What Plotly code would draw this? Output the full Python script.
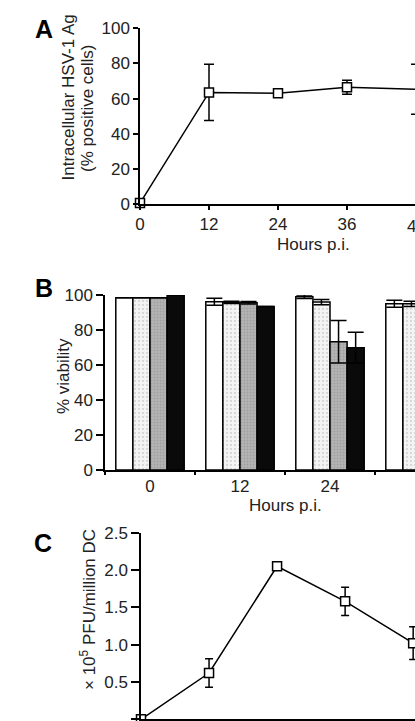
import plotly.graph_objects as go

W, H = 415, 721
FONT = "Liberation Sans, Arial, sans-serif"
TXT = "#222222"

# ---------------- data ----------------
hours = [0, 12, 24, 36, 48]

# Panel A: intracellular HSV-1 Ag (% positive cells)
ag_pct = [0.5, 63.5, 63.0, 66.4, 65.3]
ag_err = [0, 16, 1.5, 4, 14.2]

# Panel B: % viability, 4 conditions per time point
b_times = ["0", "12", "24", "36"]
via_white = [98.5, 96.2, 99.0, 95.0]
via_white_err = [0, 2.0, 1.0, 2.0]
via_dotted = [98.5, 95.8, 96.0, 95.0]
via_dotted_err = [0, 0.7, 1.5, 1.5]
via_grey = [98.5, 95.6, 73.3, None]
via_grey_err = [0, 0.7, 12.2, 0]
via_black = [100.0, 93.5, 69.9, None]
via_black_err = [0, 0, 8.8, 0]

# Panel C: x 10^5 PFU / million DC
pfu = [0.0, 0.62, 2.05, 1.58, 1.02]
pfu_err = [0, 0.19, 0.03, 0.19, 0.22]


def px(x):
    return x / W


def py(y):
    return 1 - y / H


# axis geometry (in screen pixels)
A_X0, A_PPH = 140, 5.75
A_TOP, A_BOT = 28.3, 204
B_X0, B_CAT = 105, 90
B_TOP, B_BOT = 295, 470
C_X0, C_PPH = 141, 5.67
C_TOP, C_BOT = 532.7, 719.3

a_range = [0, (W - A_X0) / A_PPH]
b_range = [-0.5, -0.5 + (W - B_X0) / B_CAT]
c_range = [0, (W - C_X0) / C_PPH]

fig = go.Figure()

line_style = dict(color="black", width=1.5)
marker_style = dict(symbol="square", size=9, color="white",
                    line=dict(color="black", width=1.5))

fig.add_trace(go.Scatter(
    x=hours, y=ag_pct, mode="lines+markers", line=line_style, marker=marker_style,
    error_y=dict(type="data", array=ag_err, color="black", thickness=1.5, width=5),
    cliponaxis=False, xaxis="x", yaxis="y", showlegend=False))

bar_specs = [
    (via_white, via_white_err, dict(color="white")),
    (via_dotted, via_dotted_err, dict(color="#f2f2f2",
                                      pattern=dict(shape=".", fgcolor="#b8b8b8", bgcolor="#f4f4f4",
                                                   size=4, solidity=0.25))),
    (via_grey, via_grey_err, dict(color="#a8a8a8",
                                  pattern=dict(shape=".", fgcolor="#8a8a8a", bgcolor="#b4b4b4",
                                               size=3, solidity=0.3))),
    (via_black, via_black_err, dict(color="#0a0a0a")),
]
for vals, errs, mk in bar_specs:
    mk = dict(mk)
    mk["line"] = dict(color="black", width=1.5)
    fig.add_trace(go.Bar(
        x=b_times, y=vals, marker=mk,
        error_y=dict(type="data", array=errs, color="black", thickness=1.5, width=8),
        xaxis="x2", yaxis="y2", showlegend=False))

fig.add_trace(go.Scatter(
    x=hours, y=pfu, mode="lines+markers", line=line_style, marker=marker_style,
    error_y=dict(type="data", array=pfu_err, color="black", thickness=1.5, width=4),
    cliponaxis=False, xaxis="x3", yaxis="y3", showlegend=False))

tickfont = dict(family=FONT, size=17, color=TXT)
common = dict(showline=True, linecolor="black", linewidth=1.5, ticks="outside",
              tickcolor="black", tickwidth=1.5, showgrid=False, zeroline=False,
              tickfont=tickfont, automargin=False)

fig.update_layout(
    width=W, height=H, autosize=False, margin=dict(l=0, r=0, t=0, b=0, pad=0),
    paper_bgcolor="white", plot_bgcolor="white",
    barmode="group", bargap=0.24, bargroupgap=0,
    font=dict(family=FONT, size=17, color=TXT),
    xaxis=dict(domain=[px(A_X0), 1], range=a_range, tickvals=hours, ticklen=4,
               anchor="y", **common),
    yaxis=dict(domain=[py(A_BOT), py(A_TOP)], range=[0, 100], dtick=20, ticklen=5,
               anchor="x", **common),
    xaxis2=dict(domain=[px(B_X0), 1], range=b_range, type="category", ticklen=3,
                tickson="boundaries", anchor="y2", **common),
    yaxis2=dict(domain=[py(B_BOT), py(B_TOP)], range=[0, 100], dtick=20, ticklen=7,
                anchor="x2", **common),
    xaxis3=dict(domain=[px(C_X0), 1], range=c_range, tickvals=hours, ticklen=4,
                anchor="y3", **common),
    yaxis3=dict(domain=[py(C_BOT), py(C_TOP)], range=[0, 2.5],
                tickvals=[0, 0.5, 1.0, 1.5, 2.0, 2.5],
                ticktext=["0", "0.5", "1.0", "1.5", "2.0", "2.5"], ticklen=8,
                anchor="x3", **common),
)

ann = []


def text(x, y, s, size=17, angle=0, bold=False):
    ann.append(dict(x=px(x), y=py(y), xref="paper", yref="paper", text=s,
                    showarrow=False, textangle=angle, xanchor="center", yanchor="middle",
                    font=dict(family=FONT, size=size, color="black" if bold else TXT)))


# panel letters
text(44, 29, "<b>A</b>", size=25, bold=True)
text(44, 288, "<b>B</b>", size=25, bold=True)
text(43, 543, "<b>C</b>", size=25, bold=True)

# axis titles
text(68, 97.5, "Intracellular HSV-1 Ag", angle=-90)
text(88, 108, "(% positive cells)", angle=-90)
text(313, 244, "Hours p.i.")
text(63, 376, "% viability", angle=-90)
text(285, 505, "Hours p.i.")
text(88, 610, "× 10<sup>5</sup> PFU/million DC", angle=-90)

# tick label of the last time point in panel A, cut by the figure edge
text(A_X0 + hours[-1] * A_PPH, 226, str(hours[-1]))

fig.update_layout(annotations=ann)

fig.write_html("out.html")
